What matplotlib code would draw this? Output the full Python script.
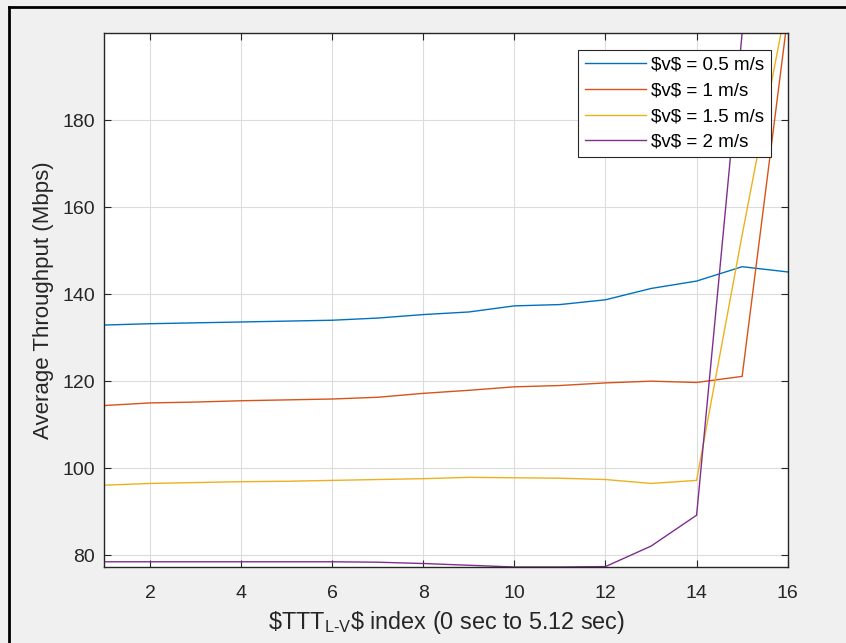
import matplotlib
matplotlib.use("Agg")
import matplotlib.pyplot as plt
from matplotlib.lines import Line2D

plt.rcParams['font.family'] = ['Liberation Sans', 'DejaVu Sans']
plt.rcParams['mathtext.fontset'] = 'custom'
plt.rcParams['mathtext.rm'] = 'Liberation Sans'
plt.rcParams['mathtext.it'] = 'Liberation Sans'

# ---- data ----
ttt_index = list(range(1, 17))
v_05 = [132.9, 133.2, 133.4, 133.6, 133.8, 134.0, 134.5, 135.3, 135.9, 137.3, 137.6, 138.7, 141.3, 143.0, 146.3, 145.1]
v_10 = [114.4, 115.0, 115.2, 115.5, 115.7, 115.9, 116.3, 117.2, 117.9, 118.7, 119.0, 119.6, 120.0, 119.7, 121.1, 203.8]
v_15 = [96.1, 96.5, 96.7, 96.9, 97.0, 97.2, 97.4, 97.6, 97.9, 97.8, 97.7, 97.4, 96.5, 97.2, 153.6, 208.0]
v_20 = [78.5, 78.5, 78.5, 78.5, 78.5, 78.5, 78.4, 78.1, 77.7, 77.3, 77.3, 77.4, 82.1, 89.2, 200.0, 200.0]
series_labels = [r"\$v\$ = 0.5 m/s", r"\$v\$ = 1 m/s", r"\$v\$ = 1.5 m/s", r"\$v\$ = 2 m/s"]
xticks = [2, 4, 6, 8, 10, 12, 14, 16]
yticks = [80, 100, 120, 140, 160, 180]

colors = ['#0072BD', '#D95319', '#EDB120', '#7E2F8E']
dark = '#262626'

fig = plt.figure(figsize=(8.46, 6.43), dpi=100, facecolor='#F0F0F0')
ax = fig.add_axes([104.4 / 846, (643 - 567) / 643, (787.7 - 104.4) / 846, (567 - 33) / 643])
ax.set_facecolor('white')

for ys, c, lab in zip([v_05, v_10, v_15, v_20], colors, series_labels):
    ax.plot(ttt_index, ys, color=c, lw=1.0, label=lab)

ax.set_xlim(1, 16)
ax.set_ylim(77.3, 200)
ax.set_xticks(xticks)
ax.set_yticks(yticks)
ax.grid(True, color='#DCDCDC', lw=0.8)
ax.set_axisbelow(True)
for s in ax.spines.values():
    s.set_color(dark)
    s.set_linewidth(1.0)
ax.tick_params(direction='in', top=True, right=True, length=5, width=0.8,
               colors=dark, labelsize=14, labelcolor=dark)
ax.tick_params(axis='x', pad=13)
ax.tick_params(axis='y', pad=6.5)

ax.set_xlabel(r"\$TTT$\mathregular{_{L\text{-}V}}$\$ index (0 sec to 5.12 sec)",
              fontsize=16.8, color=dark, labelpad=5)
ax.set_ylabel("Average Throughput (Mbps)", fontsize=16, color=dark, labelpad=6)

leg = ax.legend(loc='upper right', fontsize=13.5, handlelength=3.3, handletextpad=0.25,
                labelspacing=0.46, borderaxespad=0.9, borderpad=0.35, fancybox=False,
                framealpha=1.0, edgecolor=dark)
leg.get_frame().set_linewidth(0.8)

# figure frame (top and left black border)
fig.add_artist(Line2D([8.5 / 846, 8.5 / 846], [0, 1 - 6.5 / 643], transform=fig.transFigure,
                      color='black', lw=2.0))
fig.add_artist(Line2D([8.5 / 846, 1], [1 - 6.5 / 643, 1 - 6.5 / 643], transform=fig.transFigure,
                      color='black', lw=2.0))

fig.savefig("out.png", dpi=100, facecolor=fig.get_facecolor())
